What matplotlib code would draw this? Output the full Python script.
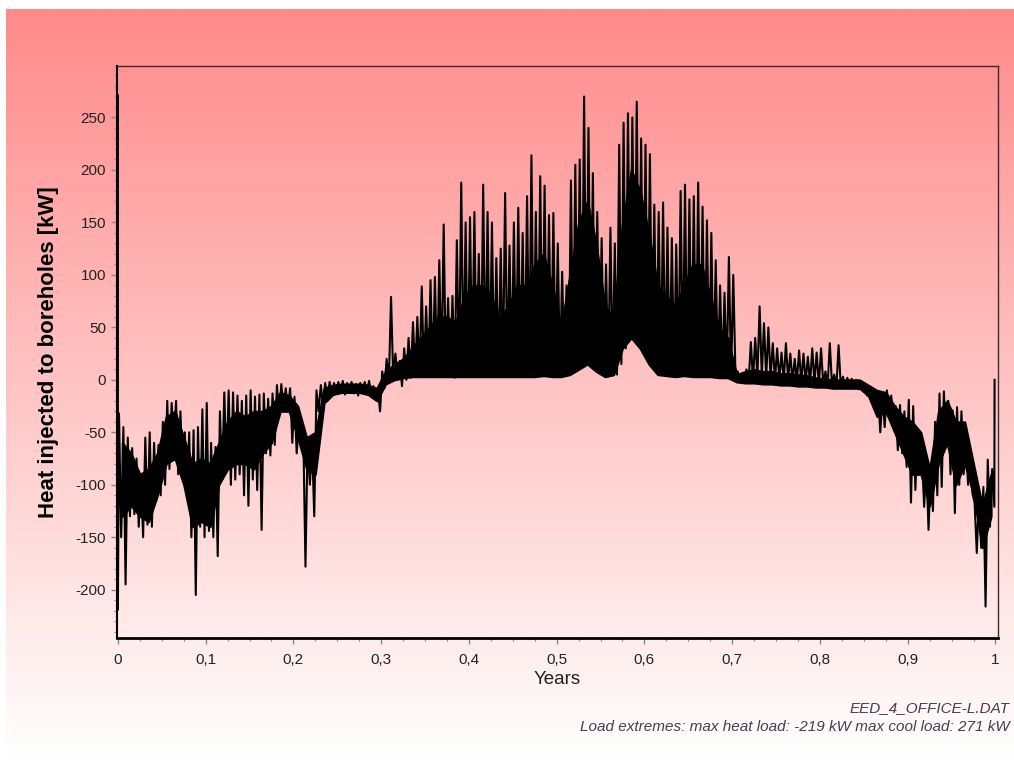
import matplotlib
matplotlib.use("Agg")
import matplotlib.pyplot as plt
import matplotlib.ticker as ticker
from matplotlib.colors import LinearSegmentedColormap
import numpy as np

# Load extremes drawn at the start of the record (kW)
start_values = [271, -219]
end_value = 0

# Sampled every 0.005 years: upper / lower spikes of hourly load (kW)
load_high = [
    -32, -45, -55, -65, -75, -90, -55, -50, -60, -62,
    -40, -20, -22, -20, -30, -50, -50, -48, -45, -28,
    -22, -60, -64, -30, -12, -10, -12, -15, -20, -15,
    -10, -16, -14, -13, -18, -13, -5, -4, -8, -8,
    -16, -40, -50, -55, -60, -10, -5, -3, -2, -3,
    -2, -1, -3, -2, -4, -3, -2, -1, -6, -10,
    8, 20, 79, 25, 18, 30, 40, 55, 60, 89,
    70, 95, 98, 114, 148, 78, 80, 133, 188, 150,
    155, 160, 120, 186, 160, 150, 116, 125, 178, 128,
    150, 164, 140, 175, 214, 160, 194, 185, 157, 159,
    130, 103, 90, 190, 205, 210, 270, 240, 197, 160,
    135, 110, 145, 130, 224, 245, 254, 250, 265, 230,
    224, 215, 167, 160, 169, 145, 135, 129, 180, 186,
    172, 175, 188, 165, 152, 140, 114, 90, 83, 117,
    100, 8, 6, 10, 36, 40, 70, 54, 50, 35,
    30, 26, 35, 25, 20, 28, 25, 22, 30, 26,
    30, 8, 35, 5, 33, 3, 2, 1, 0, -2,
    -6, -8, -10, -13, -15, -10, -15, -25, -24, -30,
    -19, -25, -50, -73, -80, -83, -40, -13, -11, -20,
    -29, -26, -30, -50, -67, -117, -110, -102, -76, -85,
]
load_low = [
    -150, -195, -130, -128, -140, -150, -138, -140, -115, -110,
    -100, -85, -60, -90, -90, -110, -150, -205, -140, -150,
    -144, -150, -168, -95, -85, -100, -95, -90, -110, -120,
    -95, -105, -143, -70, -72, -62, -35, -30, -28, -60,
    -70, -65, -178, -100, -130, -30, -25, -20, -14, -12,
    -12, -14, -10, -13, -15, -12, -11, -14, -18, -30,
    -8, -2, 2, 0, -6, 0, 2, 5, 4, 5,
    3, 3, 4, 3, 3, 4, 2, 3, 4, 4,
    5, 4, 3, 4, 5, 3, 4, 3, 4, 5,
    4, 5, 3, 4, 5, 6, 8, 5, 4, 3,
    3, 4, 5, 8, 10, 15, 20, 15, 10, 8,
    4, 3, 4, 5, 15, 30, 40, 45, 35, 25,
    20, 15, 8, 5, 6, 5, 4, 3, 5, 6,
    4, 5, 4, 3, 4, 3, 4, 3, 2, 3,
    4, 0, -1, -2, 0, 2, 3, 2, 1, 0,
    0, -1, 0, -2, -1, -3, -2, -4, -3, -5,
    -4, -6, -5, -7, -6, -8, -7, -8, -9, -10,
    -15, -20, -25, -50, -45, -30, -40, -67, -70, -83,
    -117, -105, -90, -121, -143, -125, -110, -102, -64, -90,
    -127, -100, -90, -100, -108, -165, -160, -216, -140, -121,
]

# Sampled every 0.01 years: top / bottom of the solid daily band (kW)
band_top = [
    -60, -70, -90, -85, -70, -35, -30, -55, -80, -75,
    -80, -60, -40, -30, -35, -30, -30, -25, -12, -15,
    -25, -55, -50, -8, -5, -4, -4, -4, -5, -8,
    8, 15, 20, 30, 40, 50, 60, 60, 55, 80,
    90, 90, 80, 60, 70, 90, 90, 110, 120, 90,
    50, 100, 150, 170, 130, 70, 60, 150, 200, 180,
    140, 90, 80, 70, 90, 110, 110, 80, 50, 40,
    5, 8, 10, 8, 8, 6, 6, 5, 4, 2,
    1, 0, 0, 0, 0, -5, -10, -12, -25, -35,
    -40, -50, -85, -30, -20, -40, -40, -80, -120, -90,
]
band_bottom = [
    -130, -120, -130, -135, -110, -80, -75, -100, -140, -135,
    -140, -100, -85, -80, -80, -85, -70, -60, -30, -30,
    -55, -85, -90, -22, -14, -12, -12, -12, -14, -20,
    -4, 0, 2, 3, 3, 3, 3, 3, 3, 3,
    3, 3, 3, 3, 3, 3, 3, 3, 4, 3,
    3, 5, 10, 15, 8, 3, 5, 30, 40, 30,
    15, 5, 4, 3, 4, 3, 3, 3, 2, 2,
    -2, -3, -3, -4, -4, -5, -5, -6, -6, -7,
    -7, -8, -8, -8, -8, -15, -35, -30, -50, -70,
    -90, -90, -120, -80, -60, -100, -80, -110, -160, -130,
]

x_ticks = [0, 0.1, 0.2, 0.3, 0.4, 0.5, 0.6, 0.7, 0.8, 0.9, 1.0]
y_ticks = [-200, -150, -100, -50, 0, 50, 100, 150, 200, 250]

step = 0.005
n = len(load_high)
t_mid = (np.arange(n) + 0.5) * step
xs = [0.0, 0.0]
ys = list(start_values)
for i in range(n):
    xs.append(t_mid[i] - step / 4)
    ys.append(load_high[i])
    xs.append(t_mid[i] + step / 4)
    ys.append(load_low[i])
xs.append(0.999)
ys.append(end_value)

band_t = (np.arange(len(band_top)) + 0.5) * 0.01

plt.rcParams["font.family"] = ["Liberation Sans", "DejaVu Sans"]
plt.rcParams["axes.unicode_minus"] = False

fig = plt.figure(figsize=(10.14, 7.6), dpi=100, facecolor="white")

# Gradient backdrop
bg = fig.add_axes([6 / 1014, 0, 1 - 6 / 1014, 1 - 9 / 760], zorder=-5)
cmap = LinearSegmentedColormap.from_list("bg", ["#ff8a8a", "#ffc4c4", "#ffffff"])
bg.imshow(np.linspace(0, 1, 256).reshape(-1, 1), aspect="auto", cmap=cmap,
          extent=(0, 1, 0, 1))
bg.set_axis_off()

ax = fig.add_axes([0.1154, 0.1605, 0.8689, 0.7526])
ax.set_facecolor("none")
ax.fill_between(band_t, band_bottom, band_top, color="black", linewidth=1.5,
                edgecolor="black")
ax.plot(xs, ys, color="black", linewidth=1.5)

ax.set_xlim(-0.001, 1.003)
ax.set_ylim(-246, 299)
ax.set_xticks(x_ticks)
ax.set_yticks(y_ticks)
ax.xaxis.set_minor_locator(ticker.MultipleLocator(0.025))
ax.yaxis.set_minor_locator(ticker.MultipleLocator(10))
ax.xaxis.set_major_formatter(ticker.FuncFormatter(lambda v, p: f"{v:g}".replace(".", ",")))
ax.tick_params(axis="both", which="major", direction="out", length=4, width=1,
               color="#888888", labelsize=11, labelcolor="#222222", pad=4)
ax.tick_params(axis="x", which="major", pad=7)
ax.tick_params(axis="both", which="minor", direction="out", length=2.5, width=0.8,
               color="#888888")

for side in ["top", "right"]:
    ax.spines[side].set_color("#3a2a2a")
    ax.spines[side].set_linewidth(1.0)
ax.spines["bottom"].set_color("black")
ax.spines["bottom"].set_linewidth(2.0)
ax.spines["left"].set_color("black")
ax.spines["left"].set_linewidth(1.5)

ax.set_xlabel("Years", fontsize=13.5, color="#222222", labelpad=3)
ax.set_ylabel("Heat injected to boreholes [kW]", fontsize=16, fontweight="bold",
              color="black", labelpad=12)

fig.text(1010 / 1014, 1 - 708 / 760, "EED_4_OFFICE-L.DAT", ha="right", va="center",
         fontsize=11, style="italic", color="#4a3a55")
fig.text(1010 / 1014, 1 - 727 / 760,
         "Load extremes: max heat load: -219 kW max cool load: 271 kW",
         ha="right", va="center", fontsize=11, style="italic", color="#4a3a55")

fig.savefig("out.png", dpi=100)
